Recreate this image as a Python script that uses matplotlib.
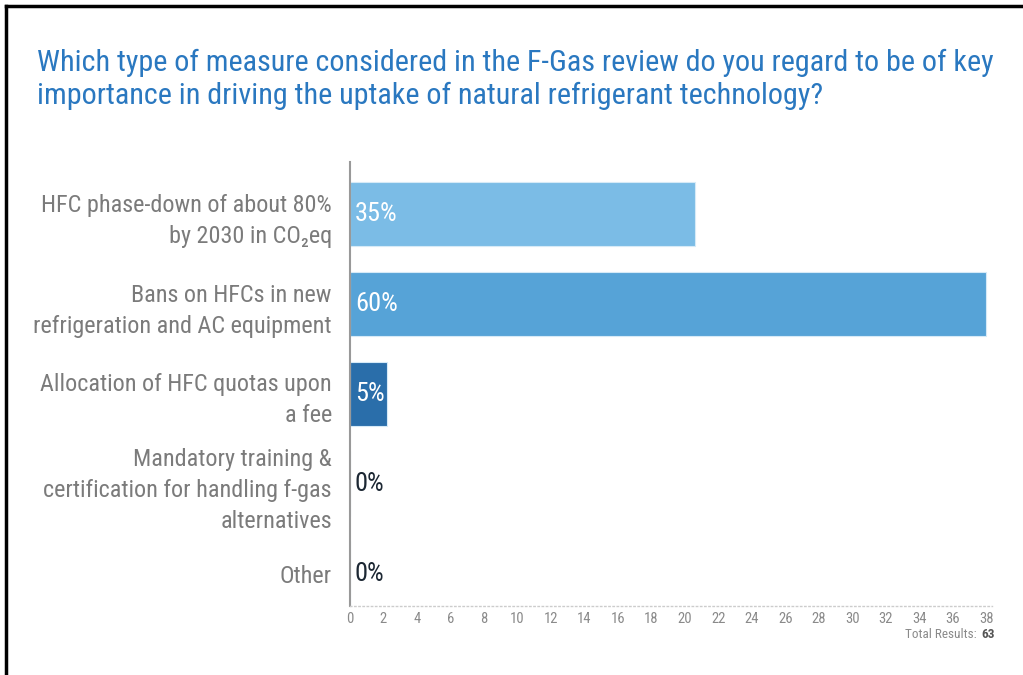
import matplotlib
matplotlib.use("Agg")
import matplotlib.pyplot as plt
from matplotlib.lines import Line2D

# survey data (x values, labels are the reported shares)
categories = [
    "HFC phase-down of about 80%\nby 2030 in CO\u2082eq",
    "Bans on HFCs in new\nrefrigeration and AC equipment",
    "Allocation of HFC quotas upon\na fee",
    "Mandatory training &\ncertification for handling f-gas\nalternatives",
    "Other",
]
values = [20.6, 38, 2.2, 0, 0]
pct_labels = ["35%", "60%", "5%", "0%", "0%"]
bar_colors = ["#7bbce6", "#56a3d7", "#2a6eaa", "#2a6eaa", "#2a6eaa"]
ticks = list(range(0, 40, 2))
total_results = 63

FONT = ["Roboto Condensed", "Archivo Narrow", "DejaVu Sans"]
plt.rcParams["font.family"] = FONT

fig = plt.figure(figsize=(10.23, 6.75), dpi=100)
ax = fig.add_axes([0.342, 0.1022, 0.9697 - 0.342, 0.76 - 0.1022])

y = list(range(len(categories)))
ax.barh(y, values, height=0.72, color=bar_colors, edgecolor="#d6eaf7", linewidth=0.8)

for i, (v, lab) in enumerate(zip(values, pct_labels)):
    col = "white" if v > 0 else "#1c2733"
    ax.text(0.3, i, lab, va="center", ha="left", fontsize=19, color=col)

ax.set_ylim(4.36, -0.58)
ax.set_xlim(0, 38.35)
ax.set_xticks(ticks)
ax.set_xticklabels([str(t) for t in ticks], fontsize=10.5, color="#8a8a8a")
ax.set_yticks(y)
ax.set_yticklabels(categories, fontsize=17.4, color="#7b7b7b", linespacing=1.45)
ax.tick_params(axis="x", length=0, pad=4)
ax.tick_params(axis="y", length=0, pad=13)

for s in ["top", "right"]:
    ax.spines[s].set_visible(False)
ax.spines["left"].set_color("#999999")
ax.spines["left"].set_linewidth(1.5)
ax.spines["bottom"].set_color("#cccccc")
ax.spines["bottom"].set_linestyle((0, (1, 2)))
ax.spines["bottom"].set_linewidth(1)

# "Total Results: 63" below the axis, number in a darker tone
ty = 1 - 635 / 675
fig.text(995 / 1023, ty, str(total_results), ha="right", va="center",
         fontsize=9.5, color="#555555", fontweight="bold")
ax.annotate("Total Results: ", xy=(995 / 1023, ty), xycoords="figure fraction",
            xytext=(-11, 0), textcoords="offset points", ha="right", va="center",
            fontsize=9.5, color="#8a8a8a")

fig.text(37 / 1023, 1 - 104 / 675,
         "Which type of measure considered in the F-Gas review do you regard to be of key\n"
         "importance in driving the uptake of natural refrigerant technology?",
         ha="left", va="baseline", fontsize=21.7, color="#2a78c0", linespacing=1.23)

# frame lines (left and top)
fig.add_artist(Line2D([6 / 1023, 6 / 1023], [0, 1 - 6 / 675], transform=fig.transFigure,
                      color="black", linewidth=2.5))
fig.add_artist(Line2D([6 / 1023, 1], [1 - 6 / 675, 1 - 6 / 675], transform=fig.transFigure,
                      color="black", linewidth=2.5))

fig.savefig("out.png", dpi=100)
